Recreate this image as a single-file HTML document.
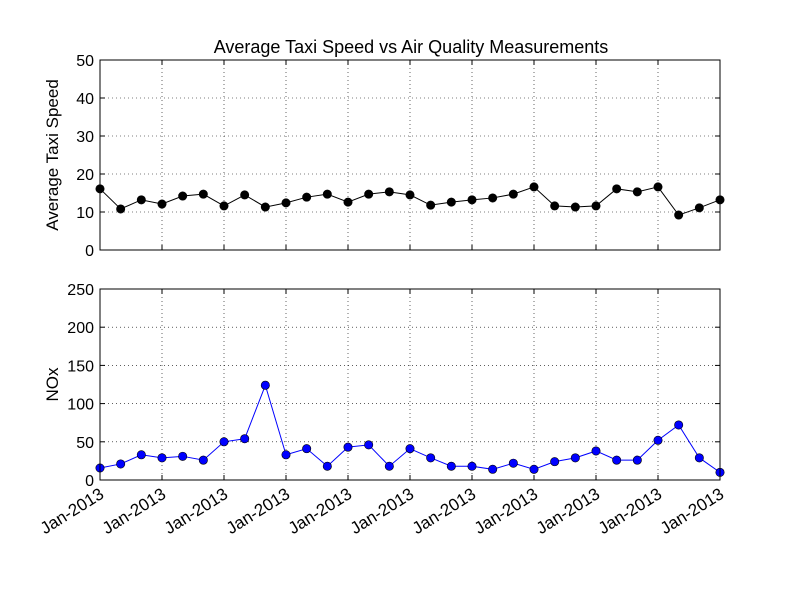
<!DOCTYPE html>
<html><head><meta charset="utf-8"><style>
body{margin:0;background:#fff;}
svg{font-family:"Liberation Sans",sans-serif;}
</style></head><body>
<svg id="chart" width="800" height="600" xmlns="http://www.w3.org/2000/svg"></svg>
<script>
const tickLabels = ["Jan-2013","Jan-2013","Jan-2013","Jan-2013","Jan-2013","Jan-2013","Jan-2013","Jan-2013","Jan-2013","Jan-2013","Jan-2013"];
const speed = [16.1,10.8,13.2,12.1,14.2,14.7,11.6,14.5,11.3,12.4,13.9,14.7,12.6,14.7,15.3,14.5,11.8,12.6,13.2,13.7,14.7,16.6,11.6,11.3,11.6,16.1,15.3,16.6,9.2,11.1,13.2];
const nox = [15.7,21,33,29,31,26,50,54,124,33,41,18,43,46,18,41,29,18,18,14,22,14,24,29,38,26,26,52,72,29,10];
const speedTicks = [0,10,20,30,40,50];
const noxTicks = [0,50,100,150,200,250];

const NS="http://www.w3.org/2000/svg";
const svg=document.getElementById('chart');
function el(tag,attrs,parent){const e=document.createElementNS(NS,tag);for(const k in attrs)e.setAttribute(k,attrs[k]);(parent||svg).appendChild(e);return e;}
const X0=100,X1=720;
function xs(i,n){return X0+(X1-X0)*i/(n-1);}

function panel(name,top,bottom,ymax,yticks,data,color,ylabel){
  const g=el('g',{});
  
  
  const ys=v=>bottom-(bottom-top)*v/ymax;
  for(let k=0;k<tickLabels.length;k++){
    const x=X0+(X1-X0)*k/(tickLabels.length-1);
    const l=el('line',{x1:x,x2:x,y1:top,y2:bottom,stroke:'#000','stroke-width':0.6,'stroke-dasharray':'1,3'},g);
    
    
    el('line',{x1:x,x2:x,y1:bottom,y2:bottom-5,stroke:'#000'},g);
    el('line',{x1:x,x2:x,y1:top,y2:top+5,stroke:'#000'},g);
  }
  yticks.forEach(t=>{
    const y=ys(t);
    const l=el('line',{x1:X0,x2:X1,y1:y,y2:y,stroke:'#000','stroke-width':0.6,'stroke-dasharray':'1,3'},g);
    
    
    el('line',{x1:X0,x2:X0+5,y1:y,y2:y,stroke:'#000'},g);
    el('line',{x1:X1,x2:X1-5,y1:y,y2:y,stroke:'#000'},g);
    const tx=el('text',{x:X0-6,y:y+6,'text-anchor':'end','font-size':16},g);
    tx.textContent=t;
    
    
  });
  const pts=data.map((v,i)=>xs(i,data.length)+','+ys(v)).join(' ');
  const pl=el('polyline',{points:pts,fill:'none',stroke:color,'stroke-width':1},g);
  
  
  data.forEach((v,i)=>{
    const c=el('circle',{cx:xs(i,data.length),cy:ys(v),r:4.2,fill:color,stroke:'#000','stroke-width':0.6},g);
    
    
  });
  const fr=el('rect',{x:X0,y:top,width:X1-X0,height:bottom-top,fill:'none',stroke:'#000','stroke-width':1},g);
  
  
  const cy=(top+bottom)/2;
  const yl=el('text',{x:0,y:0,'text-anchor':'middle','font-size':17,transform:`translate(58,${cy}) rotate(-90)`},g);
  yl.textContent=ylabel;
  
  
}
panel('speed',60,250,50,speedTicks,speed,'#000','Average Taxi Speed');
panel('nox',289,480,250,noxTicks,nox,'#0000ff','NOx');
tickLabels.forEach((t,k)=>{
  const x=X0+(X1-X0)*k/(tickLabels.length-1);
  const tx=el('text',{x:0,y:0,'text-anchor':'end','font-size':17,transform:`translate(${x+5},${497}) rotate(-32)`});
  tx.textContent=t;
  
  
});
const title=el('text',{x:411,y:53,'text-anchor':'middle','font-size':18});
title.textContent='Average Taxi Speed vs Air Quality Measurements';


</script>
</body></html>
